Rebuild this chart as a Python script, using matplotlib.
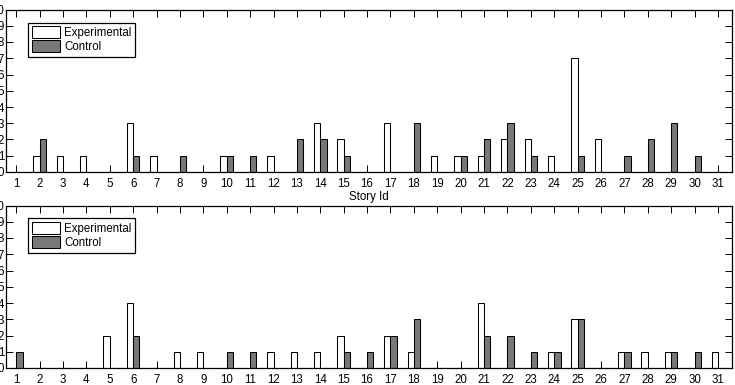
import matplotlib
matplotlib.use("Agg")
import matplotlib.pyplot as plt
import numpy as np

plt.rcParams["font.family"] = ["Liberation Sans", "DejaVu Sans"]
plt.rcParams["font.size"] = 8.3

story_ids = list(range(1, 32))

# top panel
top_experimental = [0, 1, 1, 1, 0, 3, 1, 0, 0, 1, 0, 1, 0, 3, 2, 0,
                    3, 0, 1, 1, 1, 2, 2, 1, 7, 2, 0, 0, 0, 0, 0]
top_control = [0, 2, 0, 0, 0, 1, 0, 1, 0, 1, 1, 0, 2, 2, 1, 0,
               0, 3, 0, 1, 2, 3, 1, 0, 1, 0, 1, 2, 3, 1, 0]

# bottom panel
bottom_experimental = [0, 0, 0, 0, 2, 4, 0, 1, 1, 0, 0, 1, 1, 1, 2, 0,
                       2, 1, 0, 0, 4, 0, 0, 1, 3, 0, 1, 1, 1, 0, 1]
bottom_control = [1, 0, 0, 0, 0, 2, 0, 0, 0, 1, 1, 0, 0, 0, 1, 1,
                  2, 3, 0, 0, 2, 2, 1, 1, 3, 0, 1, 0, 1, 1, 0]

series_labels = ["Experimental", "Control"]
y_ticks = list(range(0, 11))

W, H = 735, 385
fig = plt.figure(figsize=(W / 100, H / 100), dpi=100)

BAR_W = 0.27


def panel(rect, exp, ctrl, xlabel=None):
    ax = fig.add_axes(rect)
    x = np.array(story_ids)
    ax.bar(x, exp, width=-BAR_W, align="edge", facecolor="white",
           edgecolor="black", linewidth=0.75, label=series_labels[0])
    ax.bar(x, ctrl, width=BAR_W, align="edge", facecolor="0.47",
           edgecolor="black", linewidth=0.75, label=series_labels[1])
    ax.set_xlim(0.55, 31.6)
    ax.set_ylim(0, 10)
    ax.set_xticks(story_ids)
    ax.set_yticks(y_ticks)
    ax.tick_params(direction="in", length=5, width=0.7, top=True, right=True,
                   labelsize=8.3)
    ax.tick_params(axis="x", pad=4)
    # the y labels sit mostly outside the figure, as in the cropped original
    ax.tick_params(axis="y", pad=1)
    for s in ax.spines.values():
        s.set_linewidth(0.9)
    if xlabel:
        ax.set_xlabel(xlabel, fontsize=8.3, labelpad=1)
    leg = ax.legend(loc="upper left", bbox_to_anchor=(0.031, 0.92),
                    fancybox=False, edgecolor="black", framealpha=1,
                    handlelength=2.5, handleheight=1.2, borderpad=0.3,
                    labelspacing=0.15, handletextpad=0.3, fontsize=8.3,
                    borderaxespad=0)
    leg.get_frame().set_linewidth(0.9)
    return ax


def rect(left, top, right, bottom):
    return [left / W, 1 - bottom / H, (right - left) / W, (bottom - top) / H]


panel(rect(5.7, 9.5, 732, 172), top_experimental, top_control, "Story Id")
panel(rect(5.7, 205.5, 732, 368), bottom_experimental, bottom_control)

fig.savefig("out.png", dpi=100)
